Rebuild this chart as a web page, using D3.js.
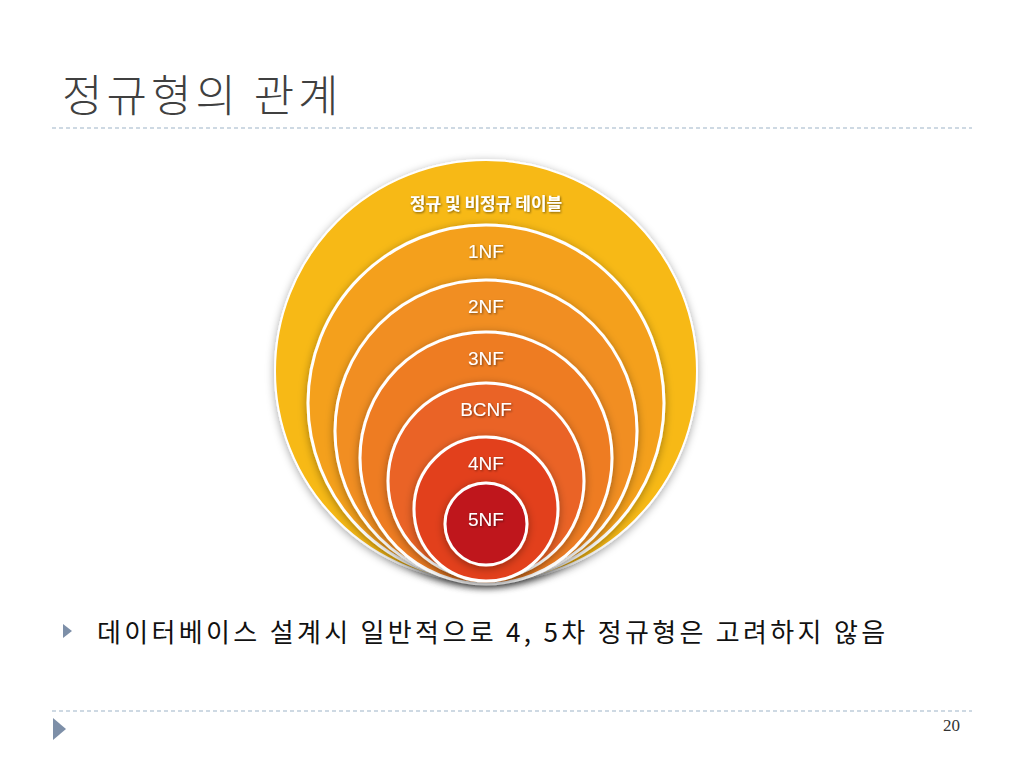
<!DOCTYPE html>
<html><head><meta charset="utf-8">
<script src="https://cdn.jsdelivr.net/npm/d3@7"></script>
<style>body{margin:0;background:#fff}</style>
</head><body>
<svg id="c" width="1024" height="768"></svg>
<script>
// circle labels, outer to inner
const labels = ['정규 및 비정규 테이블', '1NF', '2NF', '3NF', 'BCNF', '4NF', '5NF'];
const radii = [211, 178, 151, 126, 98, 72, 41];
const tops = [160, 225, 280, 332, 383, 437, 483];
const fills = ['#f7b918', '#f4a01f', '#f18e20', '#ee7c22', '#ea6325', '#e2411f', '#bf141c'];

const svg = d3.select('#c');
const cx = 486;

const defs = svg.append('defs');
const f = defs.append('filter').attr('id', 'sh').attr('x', '-20%').attr('y', '-20%').attr('width', '140%').attr('height', '140%');
f.append('feDropShadow').attr('dx', 0).attr('dy', 2).attr('stdDeviation', 4).attr('flood-opacity', 0.35);
const ts = defs.append('filter').attr('id', 'ts');
ts.append('feDropShadow').attr('dx', 1).attr('dy', 1).attr('stdDeviation', 0.8).attr('flood-opacity', 0.5);

// title
svg.append('text').attr('x', 62).attr('y', 112).text('정규형의 관계')
  .attr('font-family', 'Noto Sans CJK KR').attr('font-size', 44).attr('font-weight', 300)
  .attr('letter-spacing', 4).attr('fill', '#404040');
svg.append('line').attr('x1', 52).attr('x2', 972).attr('y1', 128).attr('y2', 128)
  .attr('stroke', '#9db3c8').attr('stroke-dasharray', '4,3').attr('stroke-width', 1.2);

// circles
const g = svg.append('g');
labels.forEach((l, i) => {
  g.append('circle').attr('cx', cx).attr('cy', tops[i] + radii[i]).attr('r', radii[i])
    .attr('fill', fills[i]).attr('stroke', '#fff').attr('stroke-width', i === 0 ? 2 : 3)
    .attr('filter', 'url(#sh)');
});
labels.forEach((l, i) => {
  g.append('text').attr('x', cx).attr('y', tops[i] + (i === 0 ? 50 : 33) + (i === 6 ? 10 : 0))
    .attr('text-anchor', 'middle').text(l)
    .attr('font-family', i === 0 ? 'Noto Sans CJK KR' : 'Liberation Sans')
    .attr('font-weight', i === 0 ? 'bold' : 'normal').attr('font-size', i === 0 ? 17 : 19)
    .attr('fill', '#fff').attr('filter', 'url(#ts)');
});

// bullet
svg.append('path').attr('d', d3.line()([[63, 624], [72, 631], [63, 638]])).attr('fill', '#7d8fa8');
svg.append('text').attr('x', 97).attr('y', 642).text('데이터베이스 설계시 일반적으로 4, 5차 정규형은 고려하지 않음')
  .attr('font-family', 'Noto Sans CJK KR').attr('font-size', 26).attr('letter-spacing', 2.8)
  .attr('textLength', 791).attr('fill', '#111');

// footer
svg.append('line').attr('x1', 52).attr('x2', 972).attr('y1', 711).attr('y2', 711)
  .attr('stroke', '#9db3c8').attr('stroke-dasharray', '4,3').attr('stroke-width', 1.2);
svg.append('path').attr('d', d3.line()([[53, 718], [66, 729], [53, 740]])).attr('fill', '#7d8fa8');
svg.append('text').attr('x', 960).attr('y', 731).attr('text-anchor', 'end').text('20')
  .attr('font-family', 'Liberation Serif').attr('font-size', 17).attr('fill', '#333');
</script>
</body></html>
